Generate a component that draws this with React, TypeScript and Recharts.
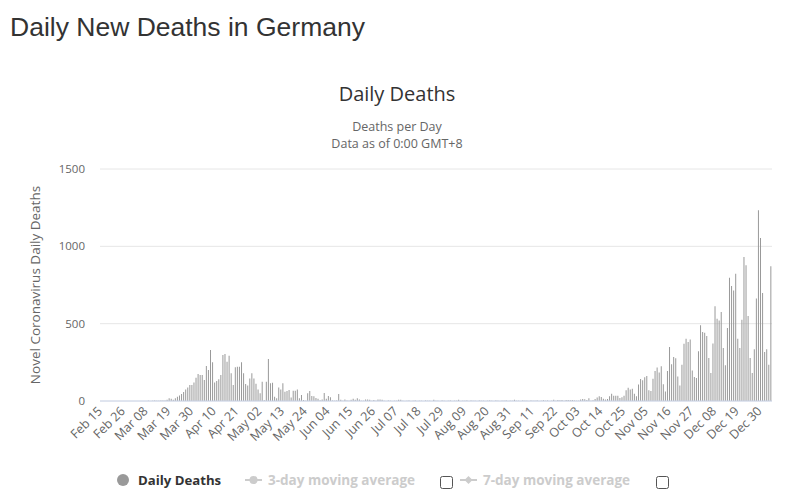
import React from 'react';
import { BarChart, Bar, XAxis, YAxis, CartesianGrid } from 'recharts';

// daily new deaths, Feb 15 2020 .. Jan 04 2021, one list per month
const feb = [0, 0, 0, 0, 0, 0, 0, 0, 0, 0, 0, 0, 0, 0, 0];
const mar = [0, 0, 0, 0, 0, 0, 0, 0, 2, 0, 1, 3, 1, 2, 3, 4, 4, 8, 17, 15, 8, 18, 28, 35, 45, 58, 75, 88, 103, 103, 120];
const apr = [150, 174, 168, 168, 135, 226, 200, 330, 250, 120, 130, 140, 168, 297, 304, 254, 293, 179, 103, 218, 222, 222, 250, 179, 110, 100, 146, 179, 146, 112];
const may = [75, 50, 125, 5, 125, 271, 114, 118, 28, 17, 88, 75, 114, 60, 65, 71, 22, 67, 67, 75, 17, 39, 6, 2, 50, 65, 32, 30, 20, 15, 5];
const jun = [10, 52, 15, 32, 25, 3, 2, 4, 45, 8, 2, 10, 3, 2, 8, 15, 8, 18, 10, 2, 1, 10, 10, 8, 1, 6, 1, 10, 10, 8];
const jul = [2, 0, 3, 1, 0, 2, 1, 8, 8, 1, 0, 2, 4, 0, 1, 3, 0, 2, 1, 0, 3, 1, 2, 0, 8, 1, 2, 0, 4, 1, 0];
const aug = [2, 3, 0, 1, 2, 8, 0, 2, 1, 3, 0, 4, 2, 1, 0, 3, 1, 2, 0, 1, 4, 2, 0, 3, 1, 0, 2, 1, 3, 0, 2];
const sep = [1, 8, 2, 1, 0, 3, 2, 1, 0, 3, 2, 1, 4, 0, 2, 5, 1, 3, 0, 2, 8, 2, 6, 5, 6, 2, 7, 6, 5, 7];
const oct = [3, 1, 2, 10, 13, 12, 6, 17, 2, 5, 13, 22, 30, 26, 15, 9, 13, 30, 47, 34, 34, 34, 19, 24, 34, 69, 86, 75, 80, 47, 30];
const nov = [106, 142, 134, 153, 162, 69, 65, 144, 194, 216, 185, 224, 108, 62, 194, 349, 237, 284, 276, 159, 101, 235, 370, 403, 381, 397, 198, 155, 149, 321];
const dec = [489, 446, 442, 420, 278, 181, 371, 612, 532, 521, 575, 343, 231, 472, 797, 743, 715, 823, 403, 343, 526, 931, 877, 549, 278, 181, 334, 662, 1233, 1054, 698];
const jan = [317, 334, 235, 871];

const monthNames = ['Feb', 'Mar', 'Apr', 'May', 'Jun', 'Jul', 'Aug', 'Sep', 'Oct', 'Nov', 'Dec', 'Jan'];
const monthFirstDay = [15, 1, 1, 1, 1, 1, 1, 1, 1, 1, 1, 1];
const months = [feb, mar, apr, may, jun, jul, aug, sep, oct, nov, dec, jan];

const yTicks = [0, 500, 1000, 1500];

const data: { date: string; deaths: number }[] = [];
months.forEach((vals, m) => {
  vals.forEach((v, i) => {
    const day = String(monthFirstDay[m] + i).padStart(2, '0');
    data.push({ date: `${monthNames[m]} ${day}`, deaths: v });
  });
});

const chartFont = '"Open Sans", "DejaVu Sans", sans-serif';

const DateTick = (props: any) => {
  const { x, y, payload } = props;
  const ax = x + 2;
  const ay = y + 11;
  return (
    <text
      x={ax}
      y={ay}
      transform={`rotate(-45, ${ax}, ${ay})`}
      textAnchor="end"
      fill="#666"
      fontSize={12.5}
      fontFamily={chartFont}
    >
      {payload.value}
    </text>
  );
};

const Overlay = () => (
  <svg
    width={799}
    height={503}
    style={{ position: 'absolute', left: 0, top: 0, pointerEvents: 'none' }}
  >
    <text x={10} y={36} fontSize={26.5} fill="#333" fontFamily='"Liberation Sans", Arial, sans-serif'>
      Daily New Deaths in Germany
    </text>
    <text x={397} y={101} textAnchor="middle" fontSize={20} fill="#333" fontFamily={chartFont}>
      Daily Deaths
    </text>
    <text x={397} y={131} textAnchor="middle" fontSize={12.5} fill="#666" fontFamily={chartFont}>
      Deaths per Day
    </text>
    <text x={397} y={148} textAnchor="middle" fontSize={12.5} fill="#666" fontFamily={chartFont}>
      Data as of 0:00 GMT+8
    </text>
    <text
      x={40}
      y={285}
      transform="rotate(-90, 40, 285)"
      textAnchor="middle"
      fontSize={13.5}
      fill="#666"
      fontFamily={chartFont}
    >
      Novel Coronavirus Daily Deaths
    </text>

    {/* legend */}
    <circle cx={123} cy={480} r={6} fill="#999" />
    <text x={138} y={484.5} fontSize={13.2} fontWeight="bold" fill="#333" fontFamily={chartFont}>
      Daily Deaths
    </text>
    <line x1={245} y1={480} x2={262} y2={480} stroke="#ccc" strokeWidth={2} />
    <circle cx={253.5} cy={480} r={4} fill="#ccc" />
    <text x={268} y={484.5} fontSize={13.5} fontWeight="bold" fill="#ccc" fontFamily={chartFont}>
      3-day moving average
    </text>
    <rect x={440.5} y={476.5} width={12} height={12} rx={2} fill="#fff" stroke="#555" />
    <line x1={460} y1={480} x2={477} y2={480} stroke="#ccc" strokeWidth={2} />
    <path d="M468.5 476 L472.5 480 L468.5 484 L464.5 480 Z" fill="#ccc" />
    <text x={483} y={484.5} fontSize={13.5} fontWeight="bold" fill="#ccc" fontFamily={chartFont}>
      7-day moving average
    </text>
    <rect x={656.5} y={476.5} width={12} height={12} rx={2} fill="#fff" stroke="#555" />
  </svg>
);

export default function App() {
  return (
    <div style={{ position: 'absolute', left: 0, top: 0, width: 799, height: 503, background: '#fff' }}>
      <BarChart
        width={799}
        height={503}
        data={data}
        margin={{ top: 169, right: 27, left: 40, bottom: 0 }}
        barCategoryGap="20%"
      >
        <CartesianGrid horizontal vertical={false} stroke="#e6e6e6" />
        <XAxis
          dataKey="date"
          interval={10}
          height={102}
          tickLine={false}
          tickSize={0}
          tickMargin={0}
          axisLine={{ stroke: '#ccd6eb' }}
          tick={<DateTick />}
        />
        <YAxis
          width={60}
          domain={[0, 1500]}
          ticks={yTicks}
          axisLine={false}
          tickLine={false}
          tickSize={0}
          tickMargin={15}
          tick={{ fill: '#666', fontSize: 11.5, fontFamily: chartFont }}
        />
        <Bar dataKey="deaths" fill="#999999" isAnimationActive={false} />
      </BarChart>
      <Overlay />
    </div>
  );
}
